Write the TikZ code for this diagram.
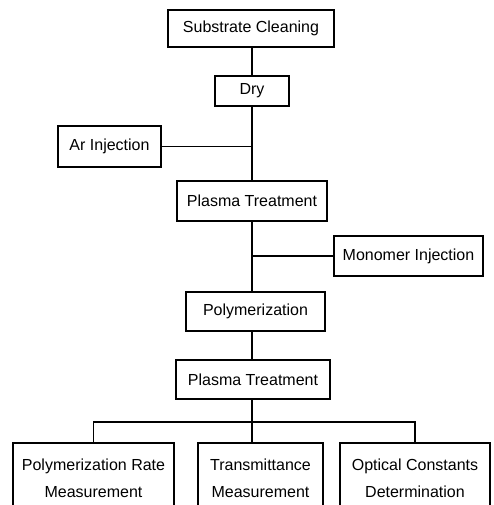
\documentclass[tikz,border=0pt]{standalone}
\usepackage{fontspec}
\setmainfont{Liberation Sans}
\begin{document}
\begin{tikzpicture}[x=1pt,y=-1pt,
  box/.style={draw, line width=1.6pt, inner sep=0pt, align=center,
    font=\fontsize{16}{27}\selectfont},
  link/.style={line width=1.8pt}]
\useasboundingbox (0,0) rectangle (494,505);
\clip (0,0) rectangle (494,505);
\node[box, minimum width=166pt, minimum height=37pt] (sc) at (251,28.5) {Substrate Cleaning};
\node[box, minimum width=74pt, minimum height=30pt] (dry) at (252,91) {Dry};
\node[box, minimum width=103pt, minimum height=41pt] (ar) at (109.5,146.5) {Ar Injection};
\node[box, minimum width=150pt, minimum height=40pt] (pt1) at (252,201) {Plasma Treatment};
\node[box, minimum width=149pt, minimum height=40pt] (mono) at (408.5,256) {Monomer Injection};
\node[box, minimum width=139pt, minimum height=39pt] (poly) at (255.5,311.5) {Polymerization};
\node[box, minimum width=154pt, minimum height=39pt] (pt2) at (253,379.5) {Plasma Treatment};
\node[box, minimum width=161pt, minimum height=71pt] (b1) at (93.5,478.5) {Polymerization Rate\\Measurement};
\node[box, minimum width=125pt, minimum height=71pt] (b2) at (260.5,478.5) {Transmittance\\Measurement};
\node[box, minimum width=150pt, minimum height=71pt] (b3) at (415,478.5) {Optical Constants\\Determination};
\coordinate (br) at (252,422);
\draw[link] (sc.south -| dry.south) -- (dry.north);
\draw[link] (dry.south) -- (pt1.north);
\draw[link] (ar.east) -- (ar.east -| dry.south);
\draw[link] (pt1.south) -- (pt1.south |- poly.north);
\draw[link] (mono.west) -- (mono.west -| pt1.south);
\draw[link] (poly.south -| pt1.south) -- (pt2.north -| pt1.south);
\draw[link] (pt2.south -| br) -- (br);
\draw[link] (b1.north) |- (br) -| (b3.north);
\draw[link] (br) -- (br |- b2.north);
\end{tikzpicture}
\end{document}
